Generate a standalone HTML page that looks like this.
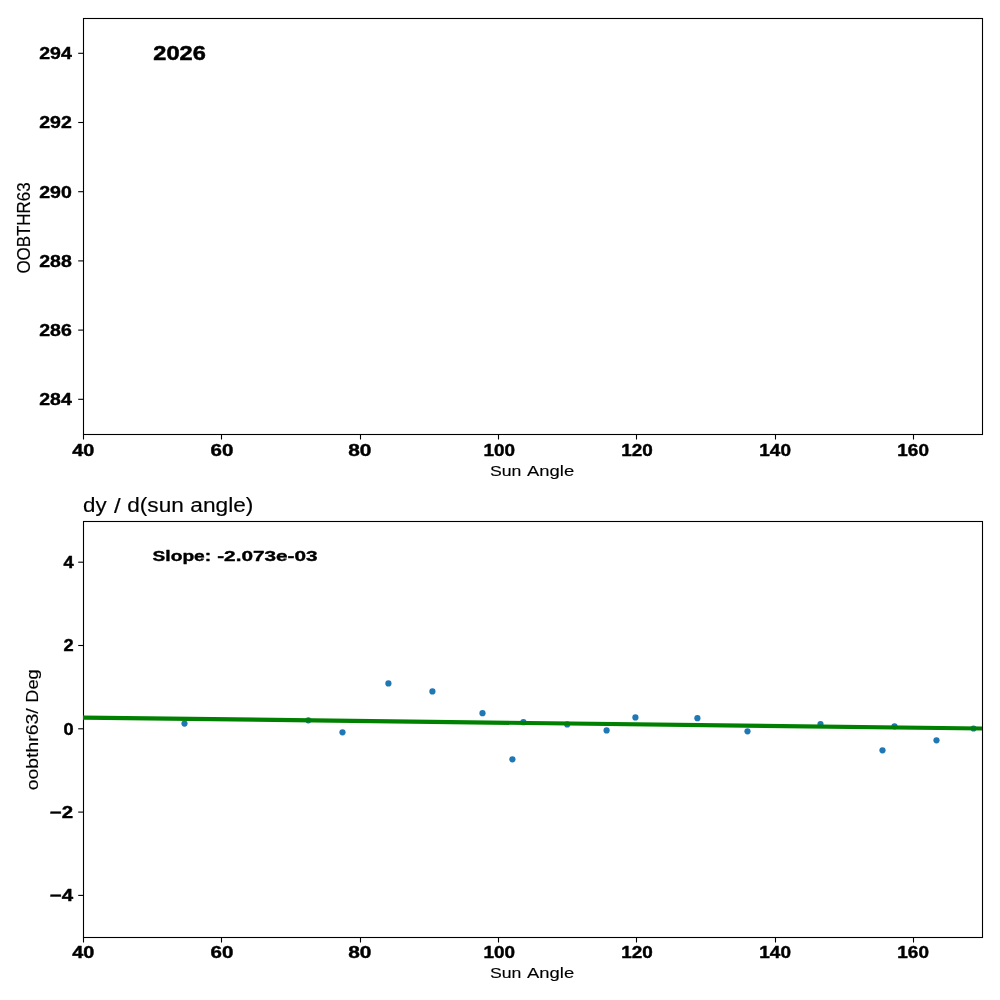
<!DOCTYPE html>
<html><head><meta charset="utf-8"><style>html,body{margin:0;padding:0;background:#fff;width:1000px;height:1000px;overflow:hidden}svg{display:block;will-change:transform}text{fill:#000;stroke:#000;stroke-linejoin:round}</style></head>
<body><svg width="1000" height="1000" viewBox="0 0 1000 1000" font-family="'Liberation Sans', sans-serif">
<rect width="1000" height="1000" fill="#fff"/>
<rect x="83.5" y="18.5" width="899" height="416" fill="none" stroke="#000" stroke-width="1.1"/>
<rect x="83.5" y="521.5" width="899" height="416" fill="none" stroke="#000" stroke-width="1.1"/>
<line x1="83.5" y1="434" x2="83.5" y2="439.5" stroke="#000" stroke-width="1.1"/>
<line x1="221.5" y1="434" x2="221.5" y2="439.5" stroke="#000" stroke-width="1.1"/>
<line x1="360.5" y1="434" x2="360.5" y2="439.5" stroke="#000" stroke-width="1.1"/>
<line x1="498.5" y1="434" x2="498.5" y2="439.5" stroke="#000" stroke-width="1.1"/>
<line x1="636.5" y1="434" x2="636.5" y2="439.5" stroke="#000" stroke-width="1.1"/>
<line x1="775.5" y1="434" x2="775.5" y2="439.5" stroke="#000" stroke-width="1.1"/>
<line x1="913.5" y1="434" x2="913.5" y2="439.5" stroke="#000" stroke-width="1.1"/>
<line x1="83.5" y1="937" x2="83.5" y2="942.5" stroke="#000" stroke-width="1.1"/>
<line x1="221.5" y1="937" x2="221.5" y2="942.5" stroke="#000" stroke-width="1.1"/>
<line x1="360.5" y1="937" x2="360.5" y2="942.5" stroke="#000" stroke-width="1.1"/>
<line x1="498.5" y1="937" x2="498.5" y2="942.5" stroke="#000" stroke-width="1.1"/>
<line x1="636.5" y1="937" x2="636.5" y2="942.5" stroke="#000" stroke-width="1.1"/>
<line x1="775.5" y1="937" x2="775.5" y2="942.5" stroke="#000" stroke-width="1.1"/>
<line x1="913.5" y1="937" x2="913.5" y2="942.5" stroke="#000" stroke-width="1.1"/>
<line x1="78.2" y1="399.30" x2="83" y2="399.30" stroke="#000" stroke-width="1.1"/>
<line x1="78.2" y1="330.10" x2="83" y2="330.10" stroke="#000" stroke-width="1.1"/>
<line x1="78.2" y1="260.90" x2="83" y2="260.90" stroke="#000" stroke-width="1.1"/>
<line x1="78.2" y1="191.70" x2="83" y2="191.70" stroke="#000" stroke-width="1.1"/>
<line x1="78.2" y1="122.50" x2="83" y2="122.50" stroke="#000" stroke-width="1.1"/>
<line x1="78.2" y1="53.30" x2="83" y2="53.30" stroke="#000" stroke-width="1.1"/>
<line x1="78.2" y1="895.40" x2="83" y2="895.40" stroke="#000" stroke-width="1.1"/>
<line x1="78.2" y1="812.10" x2="83" y2="812.10" stroke="#000" stroke-width="1.1"/>
<line x1="78.2" y1="728.80" x2="83" y2="728.80" stroke="#000" stroke-width="1.1"/>
<line x1="78.2" y1="645.50" x2="83" y2="645.50" stroke="#000" stroke-width="1.1"/>
<line x1="78.2" y1="562.20" x2="83" y2="562.20" stroke="#000" stroke-width="1.1"/>
<text transform="translate(39.210,405.113) scale(0.19518,0.16849)" font-size="100" font-weight="bold" stroke-width="2.5">284</text>
<text transform="translate(39.210,335.913) scale(0.19518,0.16849)" font-size="100" font-weight="bold" stroke-width="2.5">286</text>
<text transform="translate(39.210,266.713) scale(0.19518,0.16849)" font-size="100" font-weight="bold" stroke-width="2.5">288</text>
<text transform="translate(39.210,197.513) scale(0.19518,0.16849)" font-size="100" font-weight="bold" stroke-width="2.5">290</text>
<text transform="translate(39.210,128.313) scale(0.19518,0.16849)" font-size="100" font-weight="bold" stroke-width="2.5">292</text>
<text transform="translate(39.210,59.113) scale(0.19518,0.16849)" font-size="100" font-weight="bold" stroke-width="2.5">294</text>
<text transform="translate(72.204,455.766) scale(0.19811,0.16712)" font-size="100" font-weight="bold" stroke-width="2.5">40</text>
<text transform="translate(210.489,455.766) scale(0.20566,0.16712)" font-size="100" font-weight="bold" stroke-width="2.5">60</text>
<text transform="translate(348.283,455.766) scale(0.20849,0.16712)" font-size="100" font-weight="bold" stroke-width="2.5">80</text>
<text transform="translate(483.422,455.766) scale(0.18916,0.16712)" font-size="100" font-weight="bold" stroke-width="2.5">100</text>
<text transform="translate(621.222,455.766) scale(0.18916,0.16712)" font-size="100" font-weight="bold" stroke-width="2.5">120</text>
<text transform="translate(759.320,455.766) scale(0.18976,0.16712)" font-size="100" font-weight="bold" stroke-width="2.5">140</text>
<text transform="translate(897.320,455.766) scale(0.18976,0.16712)" font-size="100" font-weight="bold" stroke-width="2.5">160</text>
<text transform="translate(489.993,475.505) scale(0.17679,0.15213)" font-size="100" font-weight="normal" stroke-width="0.8">Sun</text>
<text transform="translate(527.000,475.505) scale(0.18452,0.15213)" font-size="100" font-weight="normal" stroke-width="0.8">Angle</text>
<text transform="translate(72.204,958.166) scale(0.19811,0.16712)" font-size="100" font-weight="bold" stroke-width="2.5">40</text>
<text transform="translate(210.489,958.166) scale(0.20566,0.16712)" font-size="100" font-weight="bold" stroke-width="2.5">60</text>
<text transform="translate(348.283,958.166) scale(0.20849,0.16712)" font-size="100" font-weight="bold" stroke-width="2.5">80</text>
<text transform="translate(483.422,958.166) scale(0.18916,0.16712)" font-size="100" font-weight="bold" stroke-width="2.5">100</text>
<text transform="translate(621.222,958.166) scale(0.18916,0.16712)" font-size="100" font-weight="bold" stroke-width="2.5">120</text>
<text transform="translate(759.320,958.166) scale(0.18976,0.16712)" font-size="100" font-weight="bold" stroke-width="2.5">140</text>
<text transform="translate(897.320,958.166) scale(0.18976,0.16712)" font-size="100" font-weight="bold" stroke-width="2.5">160</text>
<text transform="translate(489.993,977.905) scale(0.17679,0.15213)" font-size="100" font-weight="normal" stroke-width="0.8">Sun</text>
<text transform="translate(527.000,977.905) scale(0.18452,0.15213)" font-size="100" font-weight="normal" stroke-width="0.8">Angle</text>
<text transform="translate(30.221,273.577) rotate(-90) scale(0.16930,0.17887)" font-size="100" font-weight="normal" stroke-width="0.8">OOBTHR63</text>
<text transform="translate(153.328,59.611) scale(0.23578,0.19452)" font-size="100" font-weight="bold" stroke-width="2.5">2026</text>
<text transform="translate(49.786,901.185) scale(0.20463,0.16528)" font-size="100" font-weight="bold" stroke-width="2.5">−4</text>
<text transform="translate(49.786,817.885) scale(0.20463,0.16528)" font-size="100" font-weight="bold" stroke-width="2.5">−2</text>
<text transform="translate(63.600,734.631) scale(0.18214,0.16901)" font-size="100" font-weight="bold" stroke-width="2.5">0</text>
<text transform="translate(63.600,651.331) scale(0.18214,0.16901)" font-size="100" font-weight="bold" stroke-width="2.5">2</text>
<text transform="translate(63.600,568.031) scale(0.18214,0.16901)" font-size="100" font-weight="bold" stroke-width="2.5">4</text>
<text transform="translate(83.106,511.622) scale(0.22353,0.19894)" font-size="100" font-weight="normal" stroke-width="0.8">dy</text>
<text transform="translate(114.000,513.389) scale(0.23929,0.21081)" font-size="100" font-weight="normal" stroke-width="0.8">/</text>
<text transform="translate(127.297,511.622) scale(0.22583,0.19894)" font-size="100" font-weight="normal" stroke-width="0.8">d(sun</text>
<text transform="translate(190.293,511.622) scale(0.22687,0.19894)" font-size="100" font-weight="normal" stroke-width="0.8">angle)</text>
<text transform="translate(152.516,561.200) scale(0.19220,0.15000)" font-size="100" font-weight="bold" stroke-width="2.5">Slope:</text>
<text transform="translate(217.177,561.200) scale(0.20774,0.15000)" font-size="100" font-weight="bold" stroke-width="2.5">-2.073e-03</text>
<text transform="translate(38.170,790.276) rotate(-90) scale(0.19403,0.16809)" font-size="100" font-weight="normal" stroke-width="0.8">oobthr63/</text>
<text transform="translate(38.170,702.758) rotate(-90) scale(0.18225,0.16809)" font-size="100" font-weight="normal" stroke-width="0.8">Deg</text>
<circle cx="184.5" cy="723.6" r="3.1" fill="#1f77b4"/>
<circle cx="308.3" cy="720.3" r="3.1" fill="#1f77b4"/>
<circle cx="342.5" cy="732.3" r="3.1" fill="#1f77b4"/>
<circle cx="388.4" cy="683.4" r="3.1" fill="#1f77b4"/>
<circle cx="432.4" cy="691.4" r="3.1" fill="#1f77b4"/>
<circle cx="482.5" cy="713.2" r="3.1" fill="#1f77b4"/>
<circle cx="512.4" cy="759.3" r="3.1" fill="#1f77b4"/>
<circle cx="523.4" cy="722.2" r="3.1" fill="#1f77b4"/>
<circle cx="567.2" cy="724.4" r="3.1" fill="#1f77b4"/>
<circle cx="606.6" cy="730.4" r="3.1" fill="#1f77b4"/>
<circle cx="635.4" cy="717.4" r="3.1" fill="#1f77b4"/>
<circle cx="697.4" cy="718.2" r="3.1" fill="#1f77b4"/>
<circle cx="747.5" cy="731.3" r="3.1" fill="#1f77b4"/>
<circle cx="820.5" cy="724.0" r="3.1" fill="#1f77b4"/>
<circle cx="882.5" cy="750.3" r="3.1" fill="#1f77b4"/>
<circle cx="894.5" cy="726.3" r="3.1" fill="#1f77b4"/>
<circle cx="936.5" cy="740.3" r="3.1" fill="#1f77b4"/>
<circle cx="973.5" cy="728.5" r="3.1" fill="#1f77b4"/>
<line x1="83" y1="717.6" x2="982" y2="728.5" stroke="#008000" stroke-width="4.2"/>
</svg></body></html>
